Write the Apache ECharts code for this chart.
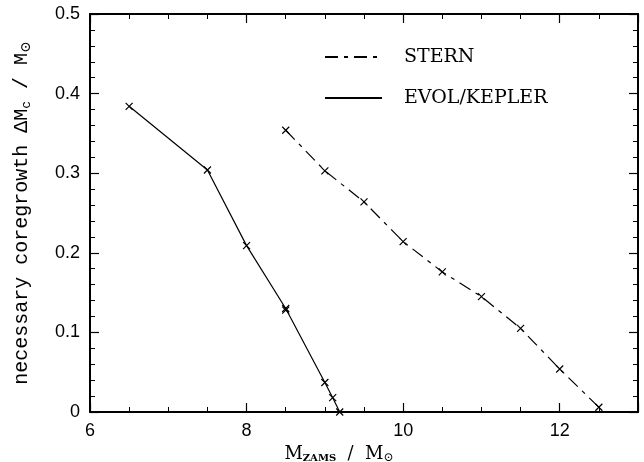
<!DOCTYPE html>
<html>
<head>
<meta charset="utf-8">
<script src="https://cdn.jsdelivr.net/npm/echarts@6/dist/echarts.min.js"></script>
<style>html,body{margin:0;padding:0;background:#fff}#c{width:644px;height:462px}</style>
</head>
<body>
<div id="c"></div>
<script>
// Data
var evolX = [6.5, 7.5, 8.0, 8.5, 8.5, 9.0, 9.1, 9.19];
var evolY = [0.384, 0.304, 0.209, 0.130, 0.128, 0.037, 0.018, 0.0];
var sternX = [8.5, 9.0, 9.5, 10.0, 10.5, 11.0, 11.5, 12.0, 12.5];
var sternY = [0.354, 0.303, 0.264, 0.214, 0.176, 0.145, 0.105, 0.054, 0.006];
var seriesNames = ['STERN', 'EVOL/KEPLER'];
var xTicks = [6, 8, 10, 12];
var yTicks = [0, 0.1, 0.2, 0.3, 0.4, 0.5];

function pairs(xs, ys){ return xs.map(function(x,i){return [x, ys[i]];}); }

var serif = 'DejaVu Serif';
var mono = 'Liberation Mono';
var sans = 'Liberation Sans';
var cross = 'path://M0,0L10,10M10,0L0,10';

var axisCommonX = {
  type: 'value', min: 6, max: 13, interval: 2,
  axisLine: {show: true, onZero: false, lineStyle: {color: '#000', width: 2}},
  axisTick: {show: true, inside: true, length: 9, lineStyle: {color: '#000', width: 1.2}},
  minorTick: {show: true, splitNumber: 4, length: 5, lineStyle: {color: '#000', width: 1}},
  splitLine: {show: false}
};
var axisCommonY = {
  type: 'value', min: 0, max: 0.5, interval: 0.1,
  axisLine: {show: true, onZero: false, lineStyle: {color: '#000', width: 2}},
  axisTick: {show: true, inside: true, length: 9, lineStyle: {color: '#000', width: 1.2}},
  minorTick: {show: true, splitNumber: 5, length: 5, lineStyle: {color: '#000', width: 1}},
  splitLine: {show: false}
};

var chart = echarts.init(document.getElementById('c'), null, {renderer: 'canvas'});
chart.setOption({
  animation: false,
  backgroundColor: '#fff',
  grid: {left: 90, right: 6, top: 14, bottom: 50, containLabel: false, outerBoundsMode: 'none'},
  legend: {
    orient: 'vertical', left: 319, top: 42, itemWidth: 57, itemHeight: 20, itemGap: 21,
    data: seriesNames,
    itemStyle: {color: 'transparent', borderColor: 'transparent', borderWidth: 0},
    textStyle: {fontFamily: serif, fontSize: 19, lineHeight: 20, color: '#000', padding: [0, 0, 0, 17]}
  },
  xAxis: [
    Object.assign({}, axisCommonX, {
      position: 'bottom',
      axisLabel: {show: true, fontFamily: sans, fontSize: 18, color: '#000', margin: 10,
        formatter: function(v){ return xTicks.indexOf(v) >= 0 ? String(v) : ''; }},
      name: 'M{sub|ZAMS}  /  M{sub2|⊙}', nameLocation: 'middle', nameGap: 25,
      nameTextStyle: {fontFamily: serif, fontSize: 18, color: '#000', padding: [0, 50, 0, 0],
        rich: {sub: {fontFamily: serif, fontSize: 10, fontWeight: 'bold', verticalAlign: 'bottom', padding: [10,0,0,0]},
               sub2: {fontFamily: serif, fontSize: 12, verticalAlign: 'bottom', padding: [8,0,0,0]}}}
    }),
    Object.assign({}, axisCommonX, {position: 'top', axisLabel: {show: false}})
  ],
  yAxis: [
    Object.assign({}, axisCommonY, {
      position: 'left',
      axisLabel: {show: true, fontFamily: sans, fontSize: 18, color: '#000', margin: 10,
        formatter: function(v){ return String(Math.round(v*10)/10); }},
      name: 'necessary coregrowth ΔM{sub|c} / M{sub2|⊙}', nameLocation: 'middle', nameGap: 57, nameRotate: 90,
      nameTextStyle: {fontFamily: mono, fontSize: 20, color: '#000',
        rich: {sub: {fontFamily: mono, fontSize: 13, verticalAlign: 'bottom', padding: [9,0,0,0]},
               sub2: {fontFamily: serif, fontSize: 14, verticalAlign: 'bottom', padding: [8,0,0,0]}}}
    }),
    Object.assign({}, axisCommonY, {position: 'right', axisLabel: {show: false}})
  ],
  series: [
    {
      name: seriesNames[0], type: 'line', data: pairs(sternX, sternY),
      symbol: cross, symbolSize: 7,
      itemStyle: {color: 'transparent', borderColor: '#000', borderWidth: 1.2},
      lineStyle: {color: '#000', width: 1.2, type: [13, 6, 4, 6]}
    },
    {
      name: seriesNames[1], type: 'line', data: pairs(evolX, evolY),
      symbol: cross, symbolSize: 7,
      itemStyle: {color: 'transparent', borderColor: '#000', borderWidth: 1.2},
      lineStyle: {color: '#000', width: 1.2, type: 'solid'}
    }
  ]
});
</script>
</body>
</html>
